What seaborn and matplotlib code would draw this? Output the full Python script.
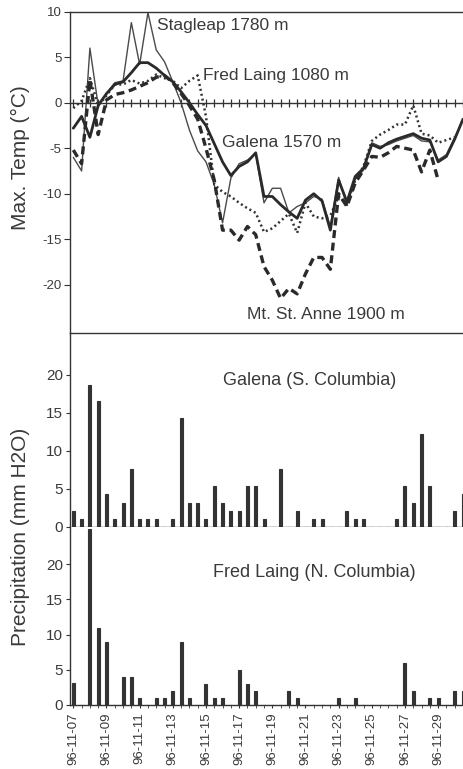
import numpy as np
import matplotlib
matplotlib.use("Agg")
import matplotlib.pyplot as plt
import seaborn as sns

# ---------------------------------------------------------------------------
# Data (one value per half-day step from 96-11-07)
n_steps = 48
tick_dates = ["96-11-07", "96-11-09", "96-11-11", "96-11-13", "96-11-15",
              "96-11-17", "96-11-19", "96-11-21", "96-11-23", "96-11-25",
              "96-11-27", "96-11-29"]

# max. temperature (deg C)
stagleap_t = [-6.0, -7.5, 6.0, -0.3, 1.0, 2.2, 2.4, 8.8, 4.2, 9.9, 5.8, 4.5,
              2.3, 0.0, -3.0, -5.3, -6.5, -9.0, -13.2, -8.3, -6.7, -6.3, -5.6,
              -11.0, -9.4, -9.4, -12.1, -11.4, -11.0, -10.3, -10.6, -13.6,
              -8.2, -11.3, -8.4, -7.4, -4.4, -4.8, -4.6, -4.2, -3.9, -3.6,
              -4.2, -4.3, -6.3, -5.7, -3.8, -1.9]
galena_t = [-2.8, -1.5, -3.8, -0.3, 1.0, 2.0, 2.3, 3.3, 4.4, 4.4, 3.8, 3.0,
            2.3, 1.2, 0.0, -1.3, -2.5, -4.5, -6.5, -8.0, -7.0, -6.5, -5.5,
            -10.3, -10.3, -11.2, -12.0, -12.7, -10.7, -10.0, -10.8, -14.0,
            -8.5, -10.9, -8.1, -7.2, -4.6, -5.0, -4.4, -4.0, -3.7, -3.4,
            -3.9, -4.1, -6.5, -5.9, -4.0, -1.8]
fred_t = [-0.6, 0.2, 2.7, -0.3, 0.8, 2.0, 2.0, 2.5, 2.1, 2.4, 3.1, 2.7,
          2.4, 1.6, 2.4, 3.0, -1.5, -9.0, -9.8, -10.3, -11.0, -11.6, -12.1,
          -14.2, -13.8, -13.0, -12.2, -14.3, -11.0, -12.5, -12.7, -12.4,
          -10.3, -11.2, -8.5, -7.0, -4.2, -3.5, -3.0, -2.4, -2.4, -0.3,
          -3.4, -3.6, -4.4, -4.1, -3.8, np.nan]
anne_t = [-5.2, -6.7, 2.5, -3.5, 0.3, 0.9, 1.1, 1.4, 1.8, 2.2, 2.8, 3.0,
          2.2, 1.0, -0.3, -1.8, -5.0, -8.5, -14.0, -14.0, -15.1, -13.6,
          -14.5, -18.0, -19.5, -21.5, -20.4, -21.0, -18.8, -17.0, -17.0,
          -18.3, -10.0, -11.4, -8.8, -7.4, -5.9, -6.0, -5.5, -4.8, -5.0,
          -5.2, -7.6, -5.2, -8.5, np.nan, np.nan, np.nan]

# precipitation (mm H2O)
galena_p = [2.1, 1.0, 18.7, 16.5, 4.3, 1.0, 3.2, 7.6, 1.0, 1.0, 1.0, 0, 1.0,
            14.3, 3.2, 3.2, 1.0, 5.4, 3.2, 2.1, 2.1, 5.4, 5.4, 1.0, 0, 7.6,
            0, 2.1, 0, 1.0, 1.0, 0, 0, 2.1, 1.0, 1.0, 0, 0, 0, 1.0, 5.4, 3.2,
            12.2, 5.4, 0, 0, 2.1, 4.3]
fred_p = [3.1, 0, 25.0, 11.0, 9.0, 0, 4.0, 4.0, 1.0, 0, 1.0, 1.0, 2.0, 9.0,
          1.0, 0, 3.0, 1.0, 1.0, 0, 5.0, 3.0, 2.0, 0, 0, 0, 2.0, 1.0, 0, 0,
          0, 0, 1.0, 0, 1.0, 0, 0, 0, 0, 0, 6.0, 2.0, 0, 1.0, 1.0, 0, 2.0,
          2.0]

steps = np.arange(n_steps)

# ---------------------------------------------------------------------------
# Style
sns.set_style("ticks")
plt.rcParams["font.family"] = ["Liberation Sans", "DejaVu Sans"]
plt.rcParams["axes.unicode_minus"] = False
ink = "#333333"
txt = "#3a3a3a"

W, H = 463, 769
fig = plt.figure(figsize=(W / 100, H / 100), dpi=100)


def px_axes(left, top, right, bottom):
    return fig.add_axes([left / W, 1 - bottom / H,
                         (right - left) / W, (bottom - top) / H])


ax_t = px_axes(70, 11.7, 463, 333)
ax_g = px_axes(70, 333, 463, 527)
ax_f = px_axes(70, 527, 463, 705)
xlim = (-0.4, 46.95)

# ---------------------------------------------------------------------------
# Temperature panel
sns.lineplot(x=steps, y=stagleap_t, ax=ax_t, color="#4a4a4a", lw=1.0,
             errorbar=None)
sns.lineplot(x=steps, y=fred_t, ax=ax_t, color=ink, lw=1.8,
             linestyle=(0, (0.8, 1.2)), errorbar=None)
sns.lineplot(x=steps, y=anne_t, ax=ax_t, color="#2a2a2a", lw=2.4,
             linestyle=(0, (2.4, 1.4)), errorbar=None)
sns.lineplot(x=steps, y=galena_t, ax=ax_t, color="#2a2a2a", lw=2.0,
             errorbar=None)

ax_t.set_xlim(*xlim)
ax_t.set_ylim(-25.3, 10)
ax_t.set_yticks([10, 5, 0, -5, -10, -15, -20])
ax_t.spines["bottom"].set_position(("data", 0))
ax_t.spines["right"].set_visible(False)
for s in ["left", "top", "bottom"]:
    ax_t.spines[s].set_color(ink)
    ax_t.spines[s].set_linewidth(1.0)
ax_t.set_xticks(steps)
ax_t.tick_params(axis="x", direction="inout", length=6, width=0.9,
                 color=ink, labelbottom=False)
ax_t.tick_params(axis="y", direction="out", length=4, color=ink,
                 labelsize=9.5, labelcolor=txt, pad=2)
ax_t.set_xlabel("")
ax_t.set_ylabel("")

ax_t.text(10.1, 8.5, "Stagleap 1780 m", fontsize=12.5, color=txt,
          va="center", ha="left")
ax_t.text(15.6, 3.0, "Fred Laing 1080 m", fontsize=12.5, color=txt,
          va="center", ha="left")
ax_t.text(17.9, -4.4, "Galena 1570 m", fontsize=12.5, color=txt,
          va="center", ha="left")
ax_t.text(20.9, -23.3, "Mt. St. Anne 1900 m", fontsize=12.5, color=txt,
          va="center", ha="left")

# ---------------------------------------------------------------------------
# Precipitation panels
for ax, vals, top, title, tx, ty in [(ax_g, galena_p, 25.5,
                                      "Galena (S. Columbia)", 18.0, 19.2),
                                     (ax_f, fred_p, 25.3,
                                      "Fred Laing (N. Columbia)", 16.8, 18.9)]:
    sns.barplot(x=steps, y=vals, ax=ax, native_scale=True, width=0.36,
                color=ink, saturation=1, errorbar=None,
                edgecolor=ink, linewidth=0.8)
    ax.set_xlim(*xlim)
    ax.set_ylim(0, top)
    ax.set_yticks([0, 5, 10, 15, 20])
    ax.spines["right"].set_visible(False)
    for s in ["left", "top", "bottom"]:
        ax.spines[s].set_color(ink)
        ax.spines[s].set_linewidth(1.0)
    ax.tick_params(axis="y", direction="out", length=3, color=ink,
                   labelsize=11, labelcolor=txt, pad=2)
    ax.set_xlabel("")
    ax.set_ylabel("")
    ax.text(tx, ty, title, fontsize=13, color=txt, va="center", ha="left")

ax_g.set_xticks(steps)
ax_g.tick_params(axis="x", direction="out", length=2.5, color=ink,
                 labelbottom=False)

ax_f.spines["top"].set_visible(False)
ax_f.set_xticks(steps[::4])
ax_f.set_xticklabels(tick_dates, rotation=90)
ax_f.set_xticks(steps, minor=True)
ax_f.tick_params(axis="x", which="both", direction="out", length=2.5,
                 color=ink, labelsize=9.5, labelcolor=txt, pad=3)

# axis titles
fig.text(20 / W, 1 - 158 / H, "Max. Temp (\u00b0C)", rotation=90,
         fontsize=15, color=txt, ha="center", va="center")
fig.text(21 / W, 1 - 537 / H, "Precipitation (mm H2O)", rotation=90,
         fontsize=15, color=txt, ha="center", va="center")

fig.savefig("out.png", dpi=100, facecolor="white")
